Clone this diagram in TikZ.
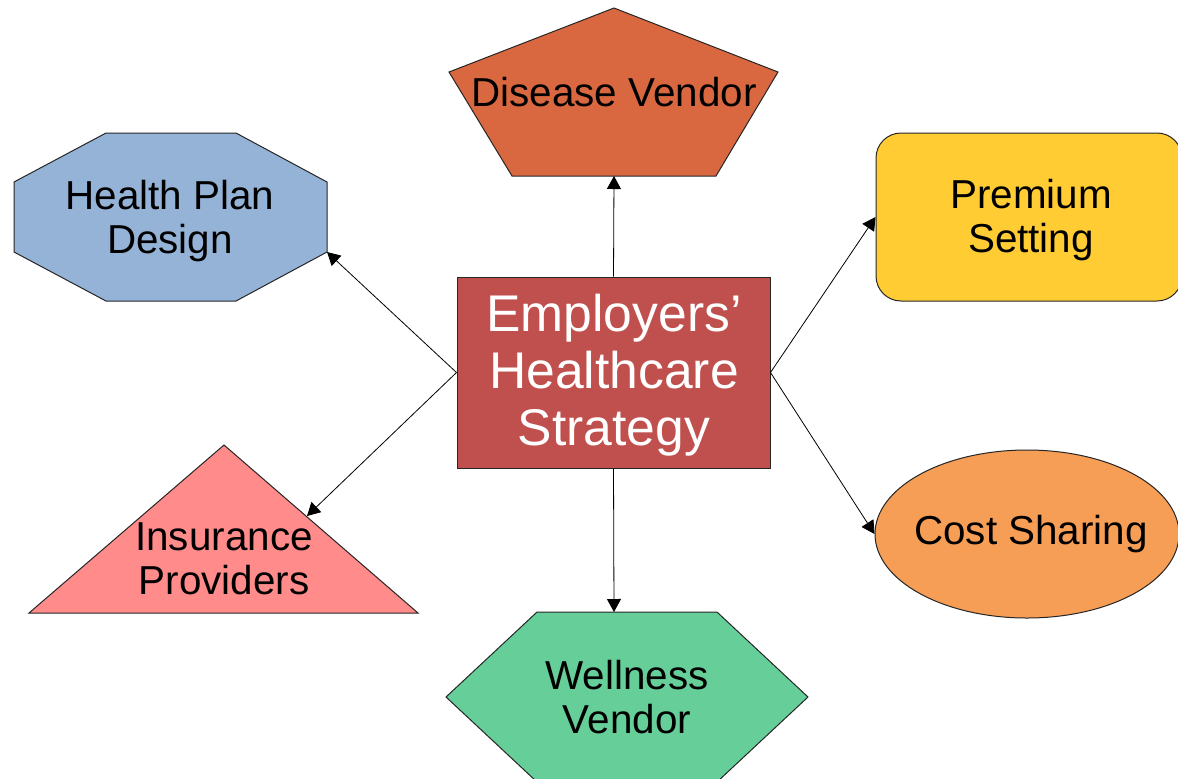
\documentclass[tikz,border=0pt]{standalone}
\usepackage{fontspec}
\setmainfont{Liberation Sans}
\usetikzlibrary{arrows.meta,shapes.geometric,positioning}
\tikzset{
outline/.style={draw=black!85, line width=0.5pt},
lbl/.style={align=center, font=\fontsize{20.2}{22}\selectfont, inner sep=0pt},
link/.style={-{Triangle[length=6.5pt,width=7pt]}, line width=0.4pt},
}
\definecolor{CdV}{RGB}{217,104,64}
\definecolor{ChP}{RGB}{149,179,215}
\definecolor{CpS}{RGB}{255,204,51}
\definecolor{CcS}{RGB}{246,157,86}
\definecolor{CiP}{RGB}{255,139,139}
\definecolor{CwV}{RGB}{102,206,153}
\definecolor{CeH}{RGB}{192,80,77}

\begin{document}
\begin{tikzpicture}[x=0.5pt,y=-0.5pt]
\useasboundingbox (0,0) rectangle (1178,778);

%% centre box
\node[outline, fill=CeH, minimum width=156.5pt, minimum height=95.5pt, inner sep=0pt] (strategy) at (613.5,372.5) {};
\node[align=center, text=white, font=\fontsize{25.8}{28.5}\selectfont, inner sep=0pt] (strategytxt) at (614,375) {Employers’\\Healthcare\\Strategy};

% --------------------------------------------------------

%% disease vendor - pentagon
\path[outline, fill=CdV] (614,8) -- (778,72) -- (716,176) -- (512,176) -- (449,72) -- cycle;
\coordinate (dvBase) at (614,176);
\node[lbl] (disease) at (614,92) {Disease Vendor};

%% health plan design - octagon
\path[outline, fill=ChP] (106,133) -- (236,133) -- (327,182) -- (327,252) -- (236,301)
-- (106,301) -- (14,252) -- (14,182) -- cycle;
\coordinate (hpCorner) at (327,252);
\node[lbl] (health) at (170,221) {Health Plan\\Design};

%% premium setting - rounded box
\node[outline, fill=CpS, rounded corners=12.5pt, minimum width=153pt, minimum height=84pt] (premium) at (1029,217) {};
\node[lbl] (premiumtxt) at (1031,220) {Premium\\Setting};

%% cost sharing - ellipse
\node[outline, fill=CcS, ellipse, inner sep=0pt, minimum width=152pt, minimum height=84pt] (cost) at (1027,534) {};
\node[lbl] (costtxt) at (1031,534) {Cost Sharing};

%% insurance providers - triangle
\path[outline, fill=CiP] (224,445) -- (418,613) -- (29,613) -- cycle;
\coordinate (ipSide) at (307,516);
\node[lbl] (insurance) at (224,559) {Insurance\\Providers};

%% wellness vendor - hexagon
\path[outline, fill=CwV] (537,612) -- (717,612) -- (808,697) -- (717,782) -- (537,782) -- (446,697) -- cycle;
\coordinate (wvTop) at (614,612);
\node[lbl] (wellness) at (627,697) {Wellness\\Vendor};

% --------------------------------------------------------

%% connectors
\draw[link] (strategy.north) -- (dvBase);
\draw[link] (strategy.south) -- (wvTop);
\draw[link] (strategy.west) -- (hpCorner);
\draw[link] (strategy.west) -- (ipSide);
\draw[link] (strategy.east) -- (premium.west);
\draw[link] (strategy.east) -- (cost.west);
\end{tikzpicture}
\end{document}
